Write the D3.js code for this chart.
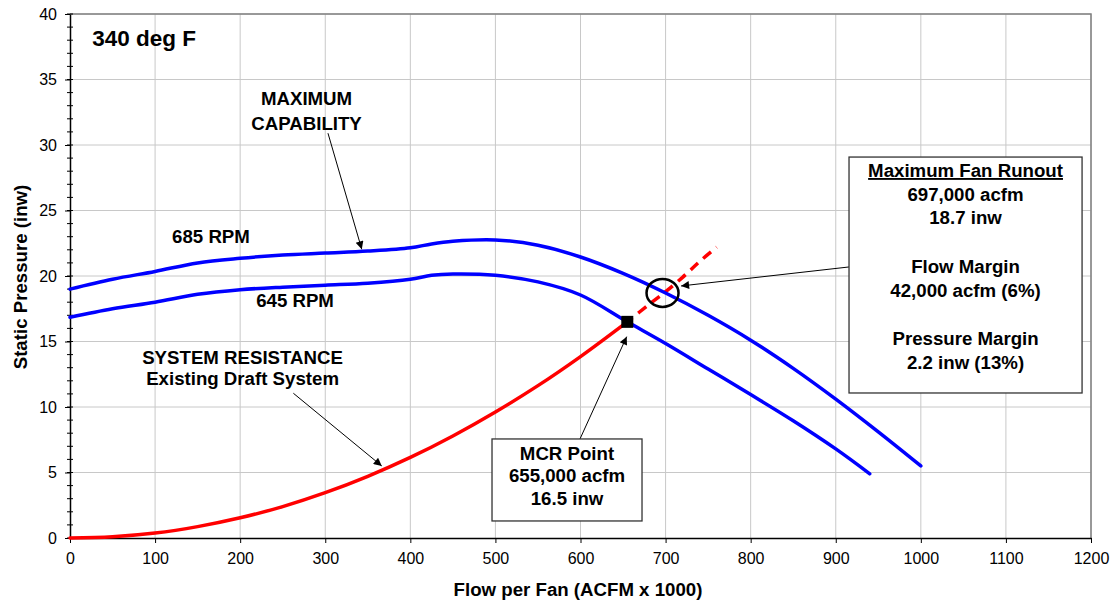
<!DOCTYPE html>
<html>
<head>
<meta charset="utf-8">
<script src="https://cdn.jsdelivr.net/npm/d3@7"></script>
<style>
  html, body { margin: 0; padding: 0; background: #fff; }
  svg { display: block; font-family: "Liberation Sans", Arial, sans-serif; }
</style>
</head>
<body>
<svg id="chart" width="1114" height="606"></svg>
<script>
// ---------------- DATA ----------------
const flow685 = [0, 50, 100, 150, 200, 250, 300, 350, 400, 425, 450, 500, 550, 600, 650, 700, 750, 800, 850, 900, 950, 1000];
const press685 = [19.0, 19.75, 20.35, 21.0, 21.35, 21.6, 21.75, 21.9, 22.15, 22.45, 22.65, 22.75, 22.35, 21.45, 20.2, 18.7, 17.0, 15.1, 12.95, 10.6, 8.1, 5.5];

const flow645 = [0, 50, 100, 150, 200, 250, 300, 350, 400, 425, 450, 500, 550, 600, 655, 700, 750, 800, 850, 900, 940];
const press645 = [16.85, 17.5, 18.0, 18.6, 18.95, 19.15, 19.3, 19.45, 19.75, 20.05, 20.15, 20.05, 19.55, 18.55, 16.5, 14.85, 12.9, 10.95, 8.95, 6.8, 4.9];

const flowSys = [0, 50, 100, 150, 200, 250, 300, 350, 400, 450, 500, 550, 600, 655];
const pressSys = [0, 0.1, 0.38, 0.87, 1.54, 2.4, 3.46, 4.71, 6.15, 7.79, 9.62, 11.63, 13.85, 16.5];

const flowExt = [655, 680, 700, 720, 740, 760];
const pressExt = [16.5, 17.8, 18.8, 19.9, 21.1, 22.2];

const mcrPoint = [655, 16.5];
const runoutPoint = [697, 18.75];

const xTicks = [0, 100, 200, 300, 400, 500, 600, 700, 800, 900, 1000, 1100, 1200];
const yTicks = [0, 5, 10, 15, 20, 25, 30, 35, 40];
const yMinorTicks = d3.range(0, 41, 1);

const runoutLines = ["Maximum Fan Runout", "697,000 acfm", "18.7 inw", "", "Flow Margin", "42,000 acfm (6%)", "", "Pressure Margin", "2.2 inw (13%)"];
const mcrLines = ["MCR Point", "655,000 acfm", "16.5 inw"];

// ---------------- LAYOUT ----------------
const svg = d3.select("#chart");
const pLeft = 70, pRight = 1091, pTop = 14, pBottom = 538;
const x = d3.scaleLinear().domain([0, 1200]).range([pLeft, pRight]);
const y = d3.scaleLinear().domain([0, 40]).range([pBottom, pTop]);

const FONT_BIG = 18.67;

// arrow marker
svg.append("defs").append("marker")
  .attr("id", "arrow").attr("viewBox", "0 0 10 10")
  .attr("refX", 10).attr("refY", 5)
  .attr("markerWidth", 11).attr("markerHeight", 8)
  .attr("markerUnits", "userSpaceOnUse")
  .attr("orient", "auto")
  .append("path").attr("d", "M0,0 L10,5 L0,10 z").attr("fill", "#000");

// gridlines
svg.append("g").selectAll("line").data(xTicks.slice(1)).join("line")
  .attr("x1", d => x(d)).attr("x2", d => x(d)).attr("y1", pTop).attr("y2", pBottom)
  .attr("stroke", "#c8c8c8").attr("stroke-width", 1);
svg.append("g").selectAll("line").data(yTicks.slice(1)).join("line")
  .attr("x1", pLeft).attr("x2", pRight).attr("y1", d => y(d)).attr("y2", d => y(d))
  .attr("stroke", "#c8c8c8").attr("stroke-width", 1);

// plot border top/right
svg.append("path")
  .attr("d", `M${pLeft},${pTop} H${pRight} V${pBottom}`)
  .attr("fill", "none").attr("stroke", "#808080").attr("stroke-width", 1.5);

// x axis
const xAxis = svg.append("g").attr("transform", `translate(0,${pBottom})`)
  .call(d3.axisBottom(x).tickValues(xTicks).tickFormat(d3.format("d"))
    .tickSize(5).tickSizeOuter(0).tickPadding(10));
xAxis.select(".domain").attr("stroke", "#000").attr("stroke-width", 1.5);
xAxis.selectAll(".tick line").attr("stroke", "#000");
xAxis.selectAll(".tick text").attr("font-size", 16).attr("fill", "#000")
  .attr("font-family", "Liberation Sans, Arial, sans-serif");

// y axis
const yAxis = svg.append("g").attr("transform", `translate(${pLeft},0)`)
  .call(d3.axisLeft(y).tickValues(yTicks).tickFormat(d3.format("d"))
    .tickSize(5).tickSizeOuter(0).tickPadding(8));
yAxis.select(".domain").attr("stroke", "#000").attr("stroke-width", 1.5);
yAxis.selectAll(".tick line").attr("stroke", "#000");
yAxis.selectAll(".tick text").attr("font-size", 16).attr("fill", "#000")
  .attr("font-family", "Liberation Sans, Arial, sans-serif");
// minor crossing ticks
svg.append("g").selectAll("line").data(yMinorTicks).join("line")
  .attr("x1", pLeft - 3).attr("x2", pLeft + 3)
  .attr("y1", d => y(d)).attr("y2", d => y(d))
  .attr("stroke", "#000").attr("stroke-width", 1);

// axis titles
svg.append("text").attr("x", 578).attr("y", 596)
  .attr("text-anchor", "middle").attr("font-weight", "bold").attr("font-size", FONT_BIG)
  .text("Flow per Fan (ACFM x 1000)");
svg.append("text").attr("transform", `translate(27,277) rotate(-90)`)
  .attr("text-anchor", "middle").attr("font-weight", "bold").attr("font-size", FONT_BIG)
  .text("Static Pressure (inw)");

// curves
const line = d3.line().x(d => x(d[0])).y(d => y(d[1])).curve(d3.curveCatmullRom.alpha(0.5));
const zip = (a, b) => a.map((v, i) => [v, b[i]]);

svg.append("path").datum(zip(flowExt, pressExt)).attr("d", line)
  .attr("fill", "none").attr("stroke", "#ff0000").attr("stroke-width", 3.5)
  .attr("stroke-dasharray", "10,7").attr("stroke-dashoffset", -14);

svg.append("path").datum(zip(flow685, press685)).attr("d", line)
  .attr("fill", "none").attr("stroke", "#0000ff").attr("stroke-width", 3.5)
  .attr("stroke-linecap", "round").attr("stroke-linejoin", "round");
svg.append("path").datum(zip(flow645, press645)).attr("d", line)
  .attr("fill", "none").attr("stroke", "#0000ff").attr("stroke-width", 3.5)
  .attr("stroke-linecap", "round").attr("stroke-linejoin", "round");
svg.append("path").datum(zip(flowSys, pressSys)).attr("d", line)
  .attr("fill", "none").attr("stroke", "#ff0000").attr("stroke-width", 3.5)
  .attr("stroke-linecap", "round");

// MCR square
svg.append("rect")
  .attr("x", x(mcrPoint[0]) - 6).attr("y", y(mcrPoint[1]) - 6)
  .attr("width", 12).attr("height", 12).attr("fill", "#000");

// runout circle
svg.append("ellipse")
  .attr("cx", x(runoutPoint[0]) - 0.5).attr("cy", y(runoutPoint[1]) + 0.5)
  .attr("rx", 16).attr("ry", 14)
  .attr("fill", "none").attr("stroke", "#000").attr("stroke-width", 2.5);

// annotation helpers
function arrow(from, to) {
  svg.append("line")
    .attr("x1", x(from[0])).attr("y1", y(from[1]))
    .attr("x2", x(to[0])).attr("y2", y(to[1]))
    .attr("stroke", "#000").attr("stroke-width", 1)
    .attr("marker-end", "url(#arrow)");
}
function label(txt, cx, baseline, size, anchor) {
  return svg.append("text").attr("x", x(cx)).attr("y", y(baseline))
    .attr("text-anchor", anchor || "middle").attr("font-weight", "bold")
    .attr("font-size", size || FONT_BIG).attr("fill", "#000").text(txt);
}

// text labels
label("340 deg F", 26.2, 37.58, 22.5, "start");
label("MAXIMUM", 278, 33.05);
label("CAPABILITY", 278, 31.18);
label("685 RPM", 165.7, 22.52);
label("645 RPM", 264.5, 17.66);
label("SYSTEM RESISTANCE", 202.8, 13.32);
label("Existing Draft System", 202.8, 11.68);

// arrows
arrow([303.2, 30.9], [342.9, 22.04]);
arrow([262.5, 11.05], [366.4, 5.5]);
arrow([599.4, 7.56], [654.3, 15.37]);
arrow([915.6, 20.69], [718.2, 19.24]);

// runout box
const rb = { x0: 915.6, x1: 1189.5, y0: 29.08, y1: 11.07 };
svg.append("rect")
  .attr("x", x(rb.x0)).attr("y", y(rb.y0))
  .attr("width", x(rb.x1) - x(rb.x0)).attr("height", y(rb.y1) - y(rb.y0))
  .attr("fill", "#fff").attr("stroke", "#333").attr("stroke-width", 1.3);
const rbCx = (x(rb.x0) + x(rb.x1)) / 2;
const rbBase = [177, 200.5, 224, 0, 273, 296.5, 0, 345, 368.5];
runoutLines.forEach((t, i) => {
  if (!t) return;
  const tx = svg.append("text").attr("x", rbCx).attr("y", rbBase[i])
    .attr("text-anchor", "middle").attr("font-weight", "bold")
    .attr("font-size", FONT_BIG).text(t);
  if (i === 0) tx.attr("text-decoration", "underline");
});

// MCR box
const mb = { x0: 496, x1: 672.3, y0: 7.56, y1: 1.30 };
svg.append("rect")
  .attr("x", x(mb.x0)).attr("y", y(mb.y0))
  .attr("width", x(mb.x1) - x(mb.x0)).attr("height", y(mb.y1) - y(mb.y0))
  .attr("fill", "#fff").attr("stroke", "#333").attr("stroke-width", 1.3);
const mbCx = (x(mb.x0) + x(mb.x1)) / 2;
const mbBase = [459.5, 482, 505];
mcrLines.forEach((t, i) => {
  svg.append("text").attr("x", mbCx).attr("y", mbBase[i])
    .attr("text-anchor", "middle").attr("font-weight", "bold")
    .attr("font-size", FONT_BIG).text(t);
});
</script>
</body>
</html>
